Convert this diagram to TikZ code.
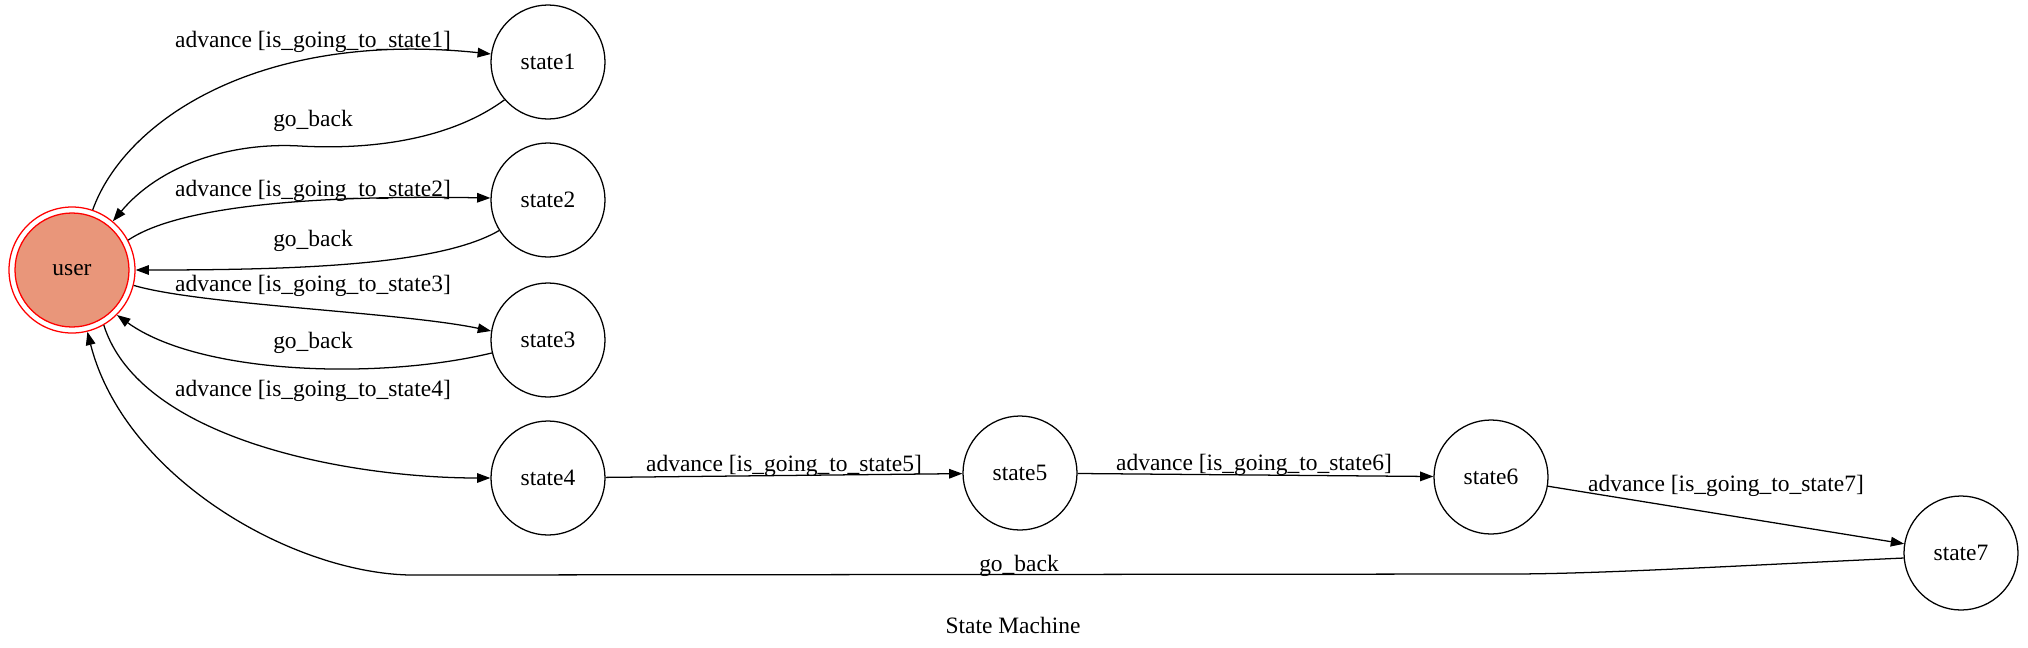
\documentclass[tikz,border=0pt]{standalone}
\usepackage{fontspec}
\setmainfont{Liberation Serif}
\usetikzlibrary{arrows.meta}
\definecolor{usrfill}{HTML}{E9967A}
\tikzset{
  st/.style={circle,draw=black,line width=0.95pt,minimum size=85.5pt,inner sep=0pt,font=\fontsize{17.6}{20}\selectfont},
  lbl/.style={inner sep=0pt,font=\fontsize{17.6}{20}\selectfont},
  edge/.style={line width=0.95pt,-{Triangle[length=10pt,width=7.2pt]}},
}
\begin{document}
\begin{tikzpicture}[x=0.75pt,y=-0.75pt]
\useasboundingbox (0,0) rectangle (2028,647);
% nodes
\node[circle,draw=red,line width=0.95pt,minimum size=94.5pt,inner sep=0pt] (user) at (72,270) {};
\node[circle,draw=red,fill=usrfill,line width=0.95pt,minimum size=85.5pt,inner sep=0pt,font=\fontsize{17.6}{20}\selectfont] (userin) at (72,270) {user};
\node[st] (state1) at (548,62) {state1};
\node[st] (state2) at (548,200) {state2};
\node[st] (state3) at (548,340) {state3};
\node[st] (state4) at (548,478) {state4};
\node[st] (state5) at (1020,473) {state5};
\node[st] (state6) at (1491,477) {state6};
\node[st] (state7) at (1961,553) {state7};
% edges
\draw[edge] (user.71) .. controls (125,120) and (260,30) .. (state1.172);
\draw[edge] (state1.221) .. controls (450,140) and (370,150) .. (300,146)
   .. controls (230,142) and (160,165) .. (user.50);
\draw[edge] (user.28) .. controls (180,205) and (320,195) .. (state2.178);
\draw[edge] (state2.212) .. controls (440,265) and (300,270) .. (user.0);
\draw[edge] (user.346) .. controls (200,305) and (400,312) .. (state3.171);
\draw[edge] (state3.193) .. controls (380,380) and (200,375) .. (user.315);
\draw[edge] (user.300) .. controls (140,440) and (350,478) .. (state4.180);
\draw[edge] (state4) -- (state5);
\draw[edge] (state5) -- (state6);
\draw[edge] (state6) -- (state7);
\draw[edge] (state7.185) .. controls (1750,565) and (1600,574) .. (1510,574)
   -- (420,575) .. controls (300,578) and (125,480) .. (user.284);
% labels
\node[lbl] (l1) at (313,41.5) {advance [is\_going\_to\_state1]};
\node[lbl] (g1) at (313,120.5) {go\_back};
\node[lbl] (l2) at (313,190.5) {advance [is\_going\_to\_state2]};
\node[lbl] (g2) at (313,240.5) {go\_back};
\node[lbl] (l3) at (313,286) {advance [is\_going\_to\_state3]};
\node[lbl] (g3) at (313,342.5) {go\_back};
\node[lbl] (l4) at (313,390.5) {advance [is\_going\_to\_state4]};
\node[lbl] (l5) at (784,465.5) {advance [is\_going\_to\_state5]};
\node[lbl] (l6) at (1254,464.5) {advance [is\_going\_to\_state6]};
\node[lbl] (l7) at (1726,486) {advance [is\_going\_to\_state7]};
\node[lbl] (g7) at (1019,566) {go\_back};
\node[lbl] (title) at (1013,625) {State Machine};
\end{tikzpicture}
\end{document}
